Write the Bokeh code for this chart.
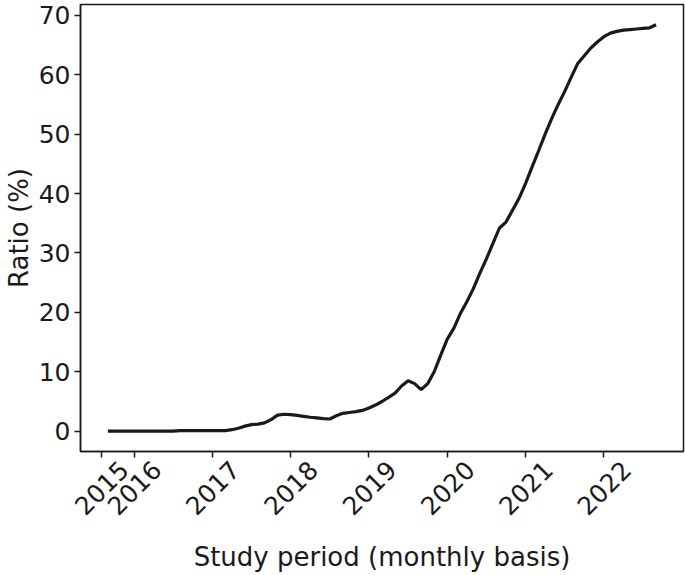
import math
import pandas as pd
from bokeh.plotting import figure
from bokeh.models import Range1d, FixedTicker, LinearAxis
from bokeh.embed import file_html
from bokeh.resources import INLINE

# ---- data -------------------------------------------------------------
months = list(pd.date_range("2015-09-01", "2022-09-01", freq="MS").strftime("%Y-%m"))

ratio = [
    0.0, 0.0, 0.0, 0.0, 0.0, 0.0, 0.0, 0.0, 0.0, 0.0, 0.0,        # 2015-09 .. 2016-07
    0.1, 0.1, 0.1, 0.1, 0.1, 0.1, 0.1,                           # 2016-08 .. 2017-02
    0.1, 0.25, 0.5, 0.85, 1.1, 1.2, 1.4, 1.95, 2.7, 2.85,        # 2017-03 .. 2017-12
    2.8, 2.65, 2.5, 2.35, 2.25, 2.1, 2.05, 2.6, 3.0, 3.15,       # 2018-01 .. 2018-10
    3.3, 3.5, 3.9, 4.4, 5.0, 5.7, 6.4, 7.6, 8.5, 8.0,            # 2018-11 .. 2019-08
    7.0, 8.0, 10.0, 12.8, 15.5, 17.3, 19.8, 21.8, 24.0, 26.6,    # 2019-09 .. 2020-06
    29.0, 31.6, 34.2, 35.2, 37.2, 39.2, 41.7, 44.5, 47.2, 50.0,  # 2020-07 .. 2021-04
    52.6, 55.0, 57.2, 59.6, 61.9, 63.2, 64.5, 65.5, 66.4, 67.0,  # 2021-05 .. 2022-02
    67.3, 67.5, 67.6, 67.7, 67.8, 67.9, 68.4,                    # 2022-03 .. 2022-09
]

tick_labels = ["2015", "2016", "2017", "2018", "2019", "2020", "2021", "2022"]
tick_months = ["2015-08", "2016-01", "2017-01", "2018-01", "2019-01", "2020-01", "2021-01", "2022-01"]
y_ticks = [0, 10, 20, 30, 40, 50, 60, 70]


def month_num(s):
    yy, mm = s.split("-")
    return (int(yy) - 2015) * 12 + int(mm) - 1


x = [month_num(m) for m in months]
tick_pos = [month_num(m) for m in tick_months]

# matplotlib-like 5% margins
xspan = max(x) - min(x)
yspan = max(ratio) - min(ratio)
x_range = Range1d(min(x) - 0.05 * xspan, max(x) + 0.05 * xspan)
y_range = Range1d(min(ratio) - 0.05 * yspan, max(ratio) + 0.05 * yspan)

FONT = "DejaVu Sans"
TXT = "#1a1a1a"

p = figure(width=685, height=575, x_range=x_range, y_range=y_range,
           output_backend="svg", toolbar_location=None,
           min_border_left=79, min_border_right=2, min_border_top=4,
           min_border_bottom=124)

p.line(x, ratio, line_color="#1a1a1a", line_width=3.2)

p.grid.visible = False
p.outline_line_color = "#1a1a1a"
p.outline_line_width = 1.5
p.background_fill_color = "white"
p.border_fill_color = "white"

# y axis
ya = p.yaxis[0]
ya.ticker = FixedTicker(ticks=y_ticks)
ya.axis_label = "Ratio (%)"
ya.axis_label_text_font = FONT
ya.axis_label_text_font_size = "26px"
ya.axis_label_text_font_style = "normal"
ya.axis_label_text_color = TXT
ya.axis_label_standoff = 2
ya.major_label_text_font = FONT
ya.major_label_text_font_size = "25px"
ya.major_label_text_color = TXT
ya.major_label_standoff = 4
ya.major_tick_out = 6
ya.major_tick_in = 0
ya.minor_tick_line_color = None
ya.axis_line_color = "#1a1a1a"
ya.axis_line_width = 1.5
ya.major_tick_line_color = "#1a1a1a"
ya.major_tick_line_width = 1.5

# x axis: tick marks only (labels are drawn by the axis below, centred)
xa = p.xaxis[0]
xa.ticker = FixedTicker(ticks=tick_pos)
xa.major_label_overrides = {t: "" for t in tick_pos}
xa.major_label_standoff = 0
xa.major_tick_out = 6
xa.major_tick_in = 0
xa.minor_tick_line_color = None
xa.axis_line_color = "#1a1a1a"
xa.axis_line_width = 1.5
xa.major_tick_line_color = "#1a1a1a"
xa.major_tick_line_width = 1.5

# x axis labels, rotated and centred on the ticks (matplotlib style)
shift = 3.5
label_pos = [t + shift for t in tick_pos]
xl = LinearAxis(ticker=FixedTicker(ticks=label_pos),
                major_label_overrides={float(t): lab for t, lab in zip(label_pos, tick_labels)},
                major_label_orientation=math.pi / 4)
xl.axis_line_color = None
xl.major_tick_line_color = None
xl.minor_tick_line_color = None
xl.major_tick_out = 0
xl.major_tick_in = 0
xl.major_label_standoff = 8
xl.major_label_text_font = FONT
xl.major_label_text_font_size = "25px"
xl.major_label_text_color = TXT
xl.axis_label = "Study period (monthly basis)"
xl.axis_label_text_font = FONT
xl.axis_label_text_font_size = "26px"
xl.axis_label_text_font_style = "normal"
xl.axis_label_text_color = TXT
xl.axis_label_standoff = 16
p.add_layout(xl, "below")

open("out.html", "w").write(file_html(p, INLINE))
